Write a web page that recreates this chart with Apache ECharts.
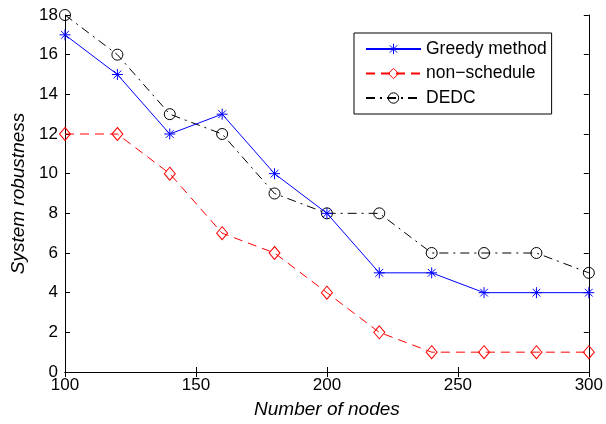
<!DOCTYPE html>
<html>
<head>
<meta charset="utf-8">
<script src="https://cdn.jsdelivr.net/npm/echarts@6/dist/echarts.min.js"></script>
<style>html,body{margin:0;padding:0;background:#fff;}#c{width:606px;height:424px;}</style>
</head>
<body>
<div id="c"></div>
<script>
const nodes = [100, 120, 140, 160, 180, 200, 220, 240, 260, 280, 300];
const greedy = [17, 15, 12, 13, 10, 8, 5, 5, 4, 4, 4];
const nonSchedule = [12, 12, 10, 7, 6, 4, 2, 1, 1, 1, 1];
const dedc = [18, 16, 13, 12, 9, 8, 8, 6, 6, 6, 5];
const xTicks = [100, 150, 200, 250, 300];
const yTicks = [0, 2, 4, 6, 8, 10, 12, 14, 16, 18];

const pairs = arr => nodes.map((x, i) => [x, arr[i]]);
const FONT = 'Liberation Sans, Arial, Helvetica, sans-serif';
const asterisk = 'path://M0,-10L0,10M-10,0L10,0M-7,-7L7,7M-7,7L7,-7';

const chart = echarts.init(document.getElementById('c'), null, {renderer: 'canvas'});
const baseX = {
  type: 'value', min: 100, max: 300, interval: 50,
  axisLine: {show: true, lineStyle: {color: '#000', width: 1}},
  axisTick: {show: true, inside: true, length: 5, lineStyle: {color: '#000'}},
  splitLine: {show: false}
};
const baseY = {
  type: 'value', min: 0, max: 18, interval: 2,
  axisLine: {show: true, lineStyle: {color: '#000', width: 1}},
  axisTick: {show: true, inside: true, length: 5, lineStyle: {color: '#000'}},
  splitLine: {show: false}
};
chart.setOption({
  animation: false,
  backgroundColor: '#fff',
  grid: {left: 65, right: 16, top: 15, bottom: 51, containLabel: false},
  xAxis: [
    Object.assign({}, baseX, {
      position: 'bottom',
      name: 'Number of nodes', nameLocation: 'middle', nameGap: 28,
      nameTextStyle: {fontFamily: FONT, fontSize: 19, fontStyle: 'italic', color: '#000'},
      axisLabel: {fontFamily: FONT, fontSize: 17, color: '#000', margin: 5,
        formatter: v => xTicks.includes(v) ? String(v) : ''}
    }),
    Object.assign({}, baseX, {position: 'top', axisLabel: {show: false}})
  ],
  yAxis: [
    Object.assign({}, baseY, {
      position: 'left',
      name: 'System robustness', nameLocation: 'middle', nameGap: 37,
      nameTextStyle: {fontFamily: FONT, fontSize: 19, fontStyle: 'italic', color: '#000'},
      axisLabel: {fontFamily: FONT, fontSize: 17, color: '#000', margin: 7,
        formatter: v => yTicks.includes(v) ? String(v) : ''}
    }),
    Object.assign({}, baseY, {position: 'right', axisLabel: {show: false}})
  ],
  legend: {
    orient: 'vertical', left: 354, top: 33,
    padding: [7, 5, 7, 11],
    itemWidth: 55, itemHeight: 13, itemGap: 6.5,
    borderColor: '#000', borderWidth: 1, backgroundColor: '#fff',
    itemStyle: {borderWidth: 1},
    textStyle: {fontFamily: FONT, fontSize: 17.5, color: '#000'},
    data: ['Greedy method', 'non\u2212schedule', 'DEDC']
  },
  series: [
    {
      name: 'Greedy method', type: 'line', data: pairs(greedy),
      symbol: asterisk, symbolSize: 11, showAllSymbol: true,
      lineStyle: {color: '#0000ff', width: 1, type: 'solid'},
      itemStyle: {color: 'transparent', borderColor: '#0000ff', borderWidth: 1},
      z: 3
    },
    {
      name: 'non\u2212schedule', type: 'line', data: pairs(nonSchedule),
      symbol: 'diamond', symbolSize: [11, 13], showAllSymbol: true,
      lineStyle: {color: '#ff0000', width: 1, type: [9, 6]},
      itemStyle: {color: 'transparent', borderColor: '#ff0000', borderWidth: 1},
      z: 2
    },
    {
      name: 'DEDC', type: 'line', data: pairs(dedc),
      symbol: 'circle', symbolSize: 11, showAllSymbol: true,
      lineStyle: {color: '#000', width: 1, type: [9, 5, 2, 5]},
      itemStyle: {color: 'transparent', borderColor: '#000', borderWidth: 1},
      z: 2
    }
  ]
});
</script>
</body>
</html>
